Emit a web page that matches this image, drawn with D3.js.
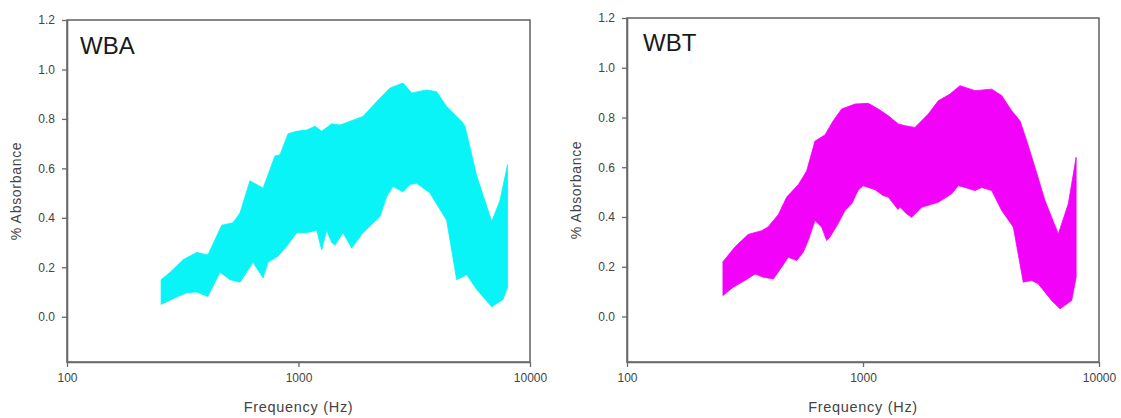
<!DOCTYPE html>
<html>
  <head>
    <meta charset="utf-8">
    <title>WBA / WBT absorbance</title>
    <script src="https://d3js.org/d3.v7.min.js" charset="utf-8"></script>
    <style>
      body { margin: 0; background: #fff; }
      text { font-family: Arial, "Liberation Sans", sans-serif; }
    </style>
  </head>
  <body>
    <script>
      var width = 1121;
      var height = 418;

      // axis ticks
      var freqTicks = [100, 1000, 10000];
      var absTicks = [0, 0.2, 0.4, 0.6, 0.8, 1.0, 1.2];

      // WBA band (upper and lower edge), frequency in Hz
      var wbaUpperFreq = [255, 279, 317, 363, 406, 466, 521, 559, 617, 703, 791, 832, 901, 982, 1085, 1179, 1259, 1391, 1512, 1719, 1899, 2177, 2485, 2827, 3083, 3580, 3954, 4365, 5070, 5240, 5885, 6836, 7417, 8000];
      var wbaUpper = [0.15, 0.18, 0.23, 0.26, 0.25, 0.37, 0.38, 0.42, 0.55, 0.52, 0.65, 0.655, 0.74, 0.75, 0.755, 0.77, 0.75, 0.78, 0.775, 0.795, 0.81, 0.87, 0.925, 0.945, 0.905, 0.917, 0.91, 0.85, 0.79, 0.77, 0.57, 0.385, 0.47, 0.615];
      var wbaLowerFreq = [255, 293, 329, 363, 406, 458, 506, 559, 597, 636, 703, 738, 815, 889, 982, 1085, 1199, 1259, 1324, 1391, 1438, 1557, 1698, 1899, 2249, 2404, 2559, 2827, 3032, 3240, 3698, 4365, 4823, 5330, 5885, 6836, 7645, 8000];
      var wbaLower = [0.05, 0.077, 0.097, 0.10, 0.082, 0.18, 0.15, 0.14, 0.18, 0.22, 0.157, 0.22, 0.245, 0.285, 0.34, 0.34, 0.35, 0.27, 0.35, 0.30, 0.29, 0.34, 0.278, 0.34, 0.405, 0.486, 0.527, 0.505, 0.535, 0.54, 0.50, 0.39, 0.15, 0.17, 0.11, 0.04, 0.07, 0.12];

      // WBT band
      var wbtUpperFreq = [255, 287, 326, 372, 396, 438, 475, 532, 577, 626, 690, 748, 812, 925, 1053, 1161, 1280, 1411, 1507, 1660, 1891, 2084, 2336, 2576, 2983, 3510, 3870, 4266, 4625, 4940, 5353, 5904, 6723, 7412, 8000];
      var wbtUpper = [0.22, 0.28, 0.33, 0.345, 0.36, 0.41, 0.48, 0.53, 0.585, 0.705, 0.73, 0.787, 0.834, 0.854, 0.857, 0.834, 0.807, 0.774, 0.767, 0.76, 0.814, 0.867, 0.894, 0.928, 0.908, 0.914, 0.888, 0.827, 0.787, 0.707, 0.60, 0.466, 0.332, 0.453, 0.64];
      var wbtLowerFreq = [255, 282, 316, 349, 378, 417, 452, 482, 524, 558, 586, 626, 668, 702, 725, 784, 839, 896, 952, 1000, 1124, 1216, 1280, 1407, 1435, 1532, 1608, 1773, 2084, 2376, 2535, 2705, 2983, 3185, 3510, 3870, 4336, 4777, 5187, 5532, 6300, 6837, 7660, 8000];
      var wbtLower = [0.084, 0.118, 0.145, 0.171, 0.158, 0.151, 0.198, 0.238, 0.225, 0.258, 0.305, 0.386, 0.359, 0.305, 0.32, 0.373, 0.426, 0.453, 0.506, 0.526, 0.51, 0.486, 0.48, 0.43, 0.439, 0.412, 0.399, 0.439, 0.459, 0.493, 0.526, 0.519, 0.506, 0.519, 0.506, 0.426, 0.359, 0.138, 0.145, 0.131, 0.064, 0.031, 0.064, 0.158];

      var panels = [
        { name: "WBA", color: "#08f4f6", x0: 67, x1: 530, y0: 20, y1: 362, tx: 80, ty: 54,
          upF: wbaUpperFreq, up: wbaUpper, loF: wbaLowerFreq, lo: wbaLower },
        { name: "WBT", color: "#f202f8", x0: 627, x1: 1099, y0: 18, y1: 362, tx: 643, ty: 51,
          upF: wbtUpperFreq, up: wbtUpper, loF: wbtLowerFreq, lo: wbtLower }
      ];

      var svg = d3.select("body")
          .append("svg")
          .attr("width", width)
          .attr("height", height);

      panels.forEach(function(p) {
        var x = d3.scaleLog().domain([100, 10000]).range([p.x0, p.x1]);
        var y = d3.scaleLinear().domain([-0.183, 1.2]).range([p.y1, p.y0]);

        var g = svg.append("g");

        // band: upper edge left to right, then lower edge back
        var pts = p.upF.map(function(f, i) { return [f, p.up[i]]; });
        var lowPts = p.loF.map(function(f, i) { return [f, p.lo[i]]; }).reverse();
        pts = pts.concat(lowPts);

        var line = d3.line()
          .x(function(d) { return x(d[0]); })
          .y(function(d) { return y(d[1]); });

        g.append("path")
          .attr("d", line(pts) + "Z")
          .attr("fill", p.color)
          .attr("stroke", p.color)
          .attr("stroke-width", 0.8)
          .attr("stroke-linejoin", "round");

        // frame
        g.append("rect")
          .attr("x", p.x0)
          .attr("y", p.y0)
          .attr("width", p.x1 - p.x0)
          .attr("height", p.y1 - p.y0)
          .attr("fill", "none")
          .attr("stroke", "#6a6a6a")
          .attr("stroke-width", 1.6);

        var yAxis = g.append("g")
          .attr("transform", "translate(" + p.x0 + ",0)")
          .call(d3.axisLeft(y).tickValues(absTicks).tickFormat(d3.format(".1f"))
            .tickSize(5).tickSizeOuter(0).tickPadding(7));

        var xAxis = g.append("g")
          .attr("transform", "translate(0," + p.y1 + ")")
          .call(d3.axisBottom(x).tickValues(freqTicks).tickFormat(d3.format("d"))
            .tickSize(5).tickSizeOuter(0).tickPadding(6));

        [xAxis, yAxis].forEach(function(a) {
          a.select(".domain").attr("stroke", "#6a6a6a").attr("stroke-width", 1.6);
          a.selectAll(".tick line").attr("stroke", "#6a6a6a").attr("stroke-width", 1.3);
          a.selectAll(".tick text")
            .attr("fill", "#444")
            .style("font-size", "12px")
            .style("font-family", "Arial, 'Liberation Sans', sans-serif");
        });

        g.append("text")
          .attr("x", (p.x0 + p.x1) / 2)
          .attr("y", 412)
          .attr("text-anchor", "middle")
          .attr("fill", "#444")
          .style("font-size", "14.5px")
          .style("letter-spacing", "0.7px")
          .text("Frequency (Hz)");

        g.append("text")
          .attr("transform", "translate(" + (p.x0 - 46) + "," + ((p.y0 + p.y1) / 2) + ") rotate(-90)")
          .attr("text-anchor", "middle")
          .attr("fill", "#444")
          .style("font-size", "14px")
          .style("letter-spacing", "0.7px")
          .text("% Absorbance");

        g.append("text")
          .attr("x", p.tx)
          .attr("y", p.ty)
          .attr("fill", "#1a1a1a")
          .style("font-size", "24px")
          .text(p.name);
      });
    </script>
  </body>
</html>
